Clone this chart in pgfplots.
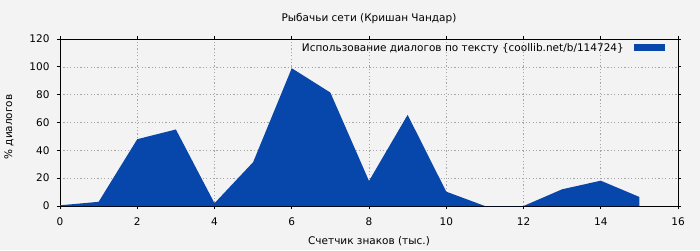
\documentclass[border=0pt]{standalone}
\usepackage{pgfplots}
\pgfplotsset{compat=1.18}
\usepackage{fontspec}
\setmainfont{DejaVu Sans}
\definecolor{bg}{RGB}{243,243,243}
\definecolor{areablue}{RGB}{7,70,170}
\begin{document}
\begin{tikzpicture}[font=\fontsize{10.5pt}{12pt}\selectfont]
\fill[bg] (0,0) rectangle (700pt,250pt);
\useasboundingbox (0,0) rectangle (700pt,250pt);
\begin{axis}[
  at={(60pt,44pt)}, anchor=south west,
  scale only axis, width=618pt, height=167pt,
  xmin=0, xmax=16, ymin=0, ymax=120,
  xtick={0,2,...,16}, ytick={0,20,...,120},
  grid=major,
  grid style={dash pattern=on 1.2pt off 2.2pt, gray!70, line width=0.6pt},
  axis line style={line width=0.8pt},
  tick style={black, line width=0.8pt},
  tick align=outside, major tick length=3pt,
  /pgf/number format/assume math mode=true,
  xticklabel style={yshift=-5pt},
  yticklabel style={xshift=-4pt},
  legend style={draw=none, fill=none, at={(1,1)}, anchor=north east, xshift=-10pt, yshift=0pt,
    legend cell align=right},
  legend plot pos=right,
]
\addplot[draw=none, fill=areablue, area legend,
  legend image code/.code={\path (0pt,0pt); \fill[areablue] (8pt,-3.5pt) rectangle (39pt,3.5pt);}]
  coordinates {(0,0) (0,0.5) (1,3) (2,48) (3,55) (4,2) (5,31.5) (6,99) (7,81.5) (8,18) (9,65.5) (10,10.3) (11,0) (12,0) (13,12) (14,18.2) (15,6.5) (15,0)} \closedcycle;
\addlegendentry{Использование диалогов по тексту \{coollib.net/b/114724\}}
\end{axis}
\node at (369pt,231pt) {Рыбачьи сети (Кришан Чандар)};
\node at (369pt,9pt) {Счетчик знаков (тыс.)};
\node[rotate=90] at (9pt,123pt) {\% диалогов};
\end{tikzpicture}
\end{document}
